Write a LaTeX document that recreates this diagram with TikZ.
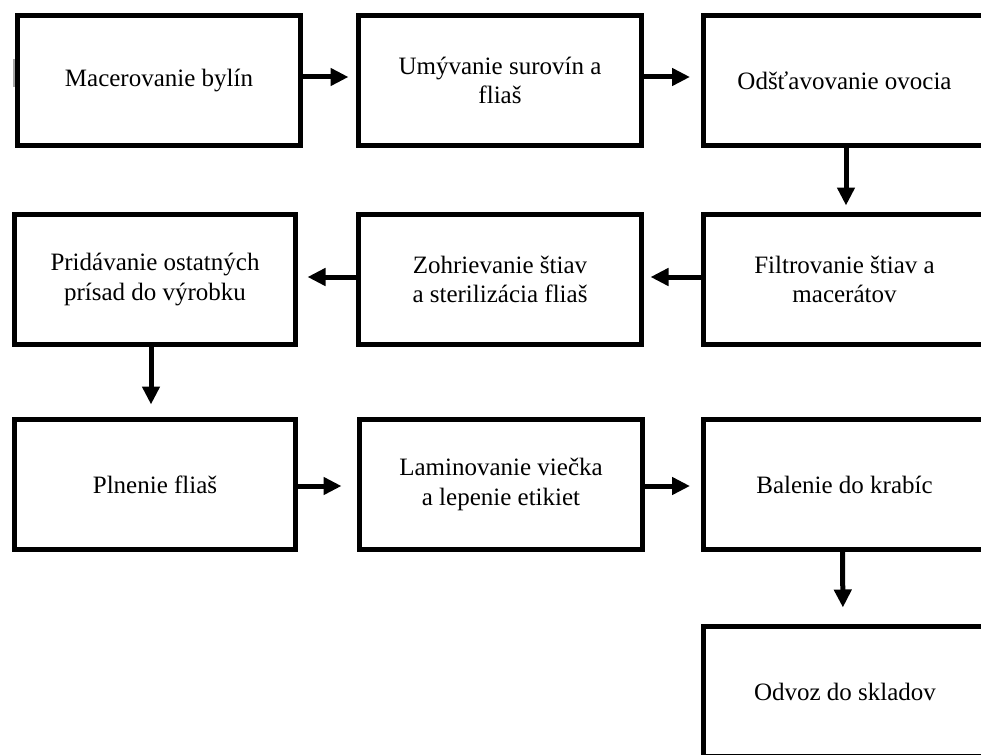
\documentclass[tikz,border=0pt]{standalone}
\usepackage{fontspec}
\setmainfont{Liberation Serif}
\usetikzlibrary{arrows.meta}
\begin{document}
\begin{tikzpicture}[x=1pt,y=-1pt,
  stepbox/.style={draw=black, line width=5pt, minimum width=283pt,
    minimum height=130pt, align=center, inner sep=0pt,
    font=\fontsize{25}{29.5}\selectfont},
  flow/.style={line width=5pt, -{Triangle[length=18pt,width=17pt]}}]
\useasboundingbox (0,0) rectangle (981,754);
\clip (0,0) rectangle (981,754);

% row 1
\node[stepbox] (b1) at (159,80.5) {Macerovanie bylín};
\node[stepbox] (b2) at (500,80.5) {Umývanie surovín a\\fliaš};
\node[stepbox] (b3) at (844.5,80.5) {Odšťavovanie ovocia};
% row 2
\node[stepbox] (b4) at (844.5,279.5) {Filtrovanie štiav a\\macerátov};
\node[stepbox] (b5) at (500,279.5) {Zohrievanie štiav\\a sterilizácia fliaš};
\node[stepbox, minimum width=281pt] (b6) at (155,279.5) {Pridávanie ostatných\\prísad do výrobku};
% row 3
\node[stepbox, minimum width=281pt] (b7) at (155,484.5) {Plnenie fliaš};
\node[stepbox] (b8) at (501,484.5) {Laminovanie viečka\\a lepenie etikiet};
\node[stepbox] (b9) at (844.5,484.5) {Balenie do krabíc};
% row 4
\node[stepbox] (b10) at (845,691.5) {Odvoz do skladov};

% small grey mark at the left edge
\fill[gray!70] (13,59) rectangle (15,87);

% connectors
\draw[flow, shorten >=7.5pt] ([yshift=3.5pt]b1.east) -- ([yshift=3.5pt]b2.west);
\draw[flow, shorten >=10.5pt] ([yshift=3.5pt]b2.east) -- ([yshift=3.5pt]b3.west);
\draw[flow, shorten >=6.5pt] ([xshift=1.5pt]b3.south) -- ([xshift=1.5pt]b4.north);
\draw[flow, shorten >=6.5pt] ([yshift=2.5pt]b4.west) -- ([yshift=2.5pt]b5.east);
\draw[flow, shorten >=9.5pt] ([yshift=2.5pt]b5.west) -- ([yshift=2.5pt]b6.east);
\draw[flow, shorten >=12.5pt] ([xshift=-4pt]b6.south) -- ([xshift=-4pt]b7.north);
\draw[flow, shorten >=15.5pt] ([yshift=-1.5pt]b7.east) -- ([yshift=-1.5pt]b8.west);
\draw[flow, shorten >=10.5pt] ([yshift=-1.5pt]b8.east) -- ([yshift=-1.5pt]b9.west);
\draw[flow, shorten >=16.5pt] ([xshift=-2pt]b9.south) -- ([xshift=-2pt]b10.north);
\end{tikzpicture}
\end{document}
